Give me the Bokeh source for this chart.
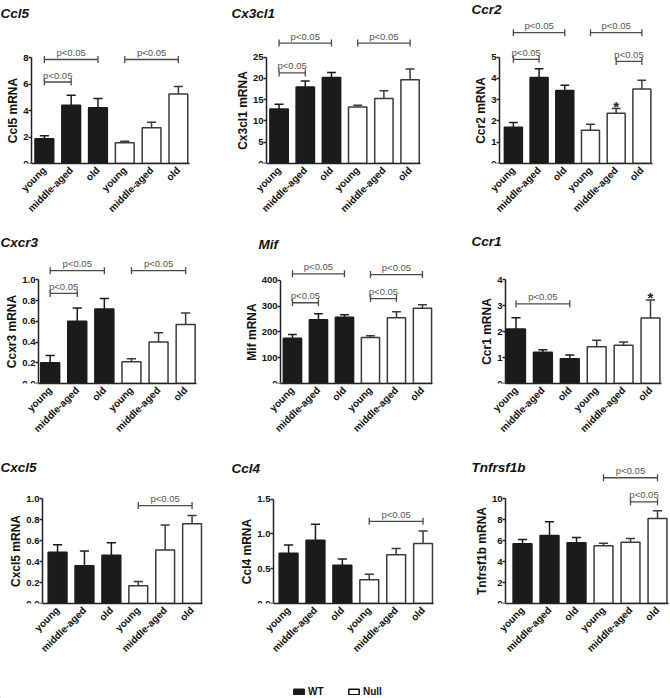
import math
from bokeh.plotting import figure
from bokeh.models import (ColumnDataSource, FixedTicker, Range1d, Label,
                          Legend, LegendItem, PrintfTickFormatter)
from bokeh.layouts import column, row
from bokeh.embed import file_html
from bokeh.resources import INLINE
from bokeh.core.properties import value

# ------------------------------------------------------------------ data
categories = ["young", "middle-aged", "old"]
groups = ["WT", "Null"]
sig_text = "p<0.05"

ccl5_wt = [1.87, 4.40, 4.20]
ccl5_wt_sem = [0.23, 0.75, 0.70]
ccl5_null = [1.57, 2.70, 5.25]
ccl5_null_sem = [0.10, 0.42, 0.57]
ccl5_ticks = [0, 2, 4, 6, 8]
ccl5_sig = [(1, 3, 7.85), (1, 2, 6.15), (4, 6, 7.85)]

cx3cl1_wt = [12.8, 18.0, 20.2]
cx3cl1_wt_sem = [1.1, 1.4, 1.2]
cx3cl1_null = [13.3, 15.3, 19.7]
cx3cl1_null_sem = [0.4, 1.8, 2.5]
cx3cl1_ticks = [0, 5, 10, 15, 20, 25]
cx3cl1_sig = [(1, 3, 28.3), (1, 2, 21.3), (4, 6, 28.3)]

ccr2_wt = [1.71, 4.04, 3.43]
ccr2_wt_sem = [0.22, 0.42, 0.25]
ccr2_null = [1.56, 2.36, 3.50]
ccr2_null_sem = [0.29, 0.23, 0.41]
ccr2_ticks = [0, 1, 2, 3, 4, 5]
ccr2_sig = [(1, 3, 6.15), (1, 2, 4.9), (4, 6, 6.15), (5, 6, 4.8)]
ccr2_star = [5]

cxcr3_wt = [0.20, 0.60, 0.72]
cxcr3_wt_sem = [0.07, 0.13, 0.10]
cxcr3_null = [0.21, 0.40, 0.57]
cxcr3_null_sem = [0.03, 0.09, 0.11]
cxcr3_ticks = [0.0, 0.2, 0.4, 0.6, 0.8, 1.0]
cxcr3_sig = [(1, 3, 1.09), (1, 2, 0.87), (4, 6, 1.09)]

mif_wt = [175, 247, 257]
mif_wt_sem = [15, 23, 9]
mif_null = [178, 255, 292]
mif_null_sem = [7, 23, 13]
mif_ticks = [0, 100, 200, 300, 400]
mif_sig = [(1, 3, 425), (1, 2, 313), (4, 6, 422), (4, 5, 329)]

ccr1_wt = [2.10, 1.20, 0.95]
ccr1_wt_sem = [0.43, 0.10, 0.15]
ccr1_null = [1.42, 1.47, 2.52]
ccr1_null_sem = [0.25, 0.13, 0.70]
ccr1_ticks = [0, 1, 2, 3, 4]
ccr1_sig = [(1, 3, 3.07)]
ccr1_star = [6]

cxcl5_wt = [0.49, 0.36, 0.46]
cxcl5_wt_sem = [0.07, 0.14, 0.12]
cxcl5_null = [0.17, 0.51, 0.76]
cxcl5_null_sem = [0.04, 0.24, 0.08]
cxcl5_ticks = [0.0, 0.2, 0.4, 0.6, 0.8, 1.0]
cxcl5_sig = [(4, 6, 0.935)]

ccl4_wt = [0.72, 0.91, 0.55]
ccl4_wt_sem = [0.12, 0.23, 0.09]
ccl4_null = [0.34, 0.70, 0.86]
ccl4_null_sem = [0.08, 0.09, 0.18]
ccl4_ticks = [0.0, 0.5, 1.0, 1.5]
ccl4_sig = [(4, 6, 1.18)]

tnfrsf1b_wt = [5.70, 6.50, 5.80]
tnfrsf1b_wt_sem = [0.40, 1.30, 0.50]
tnfrsf1b_null = [5.50, 5.85, 8.10]
tnfrsf1b_null_sem = [0.25, 0.35, 0.75]
tnfrsf1b_ticks = [0, 2, 4, 6, 8, 10]
tnfrsf1b_sig = [(4, 6, 12.0), (5, 6, 9.7)]

PANELS = [
    dict(gene="Ccl5", ylabel="Ccl5 mRNA", wt=ccl5_wt, wt_sem=ccl5_wt_sem, null=ccl5_null,
         null_sem=ccl5_null_sem, ticks=ccl5_ticks, fmt="%d", sig=ccl5_sig, star=[]),
    dict(gene="Cx3cl1", ylabel="Cx3cl1 mRNA", wt=cx3cl1_wt, wt_sem=cx3cl1_wt_sem, null=cx3cl1_null,
         null_sem=cx3cl1_null_sem, ticks=cx3cl1_ticks, fmt="%d", sig=cx3cl1_sig, star=[]),
    dict(gene="Ccr2", ylabel="Ccr2 mRNA", wt=ccr2_wt, wt_sem=ccr2_wt_sem, null=ccr2_null,
         null_sem=ccr2_null_sem, ticks=ccr2_ticks, fmt="%d", sig=ccr2_sig, star=ccr2_star),
    dict(gene="Cxcr3", ylabel="Ccxr3 mRNA", wt=cxcr3_wt, wt_sem=cxcr3_wt_sem, null=cxcr3_null,
         null_sem=cxcr3_null_sem, ticks=cxcr3_ticks, fmt="%.1f", sig=cxcr3_sig, star=[]),
    dict(gene="Mif", ylabel="Mif mRNA", wt=mif_wt, wt_sem=mif_wt_sem, null=mif_null,
         null_sem=mif_null_sem, ticks=mif_ticks, fmt="%d", sig=mif_sig, star=[]),
    dict(gene="Ccr1", ylabel="Ccr1 mRNA", wt=ccr1_wt, wt_sem=ccr1_wt_sem, null=ccr1_null,
         null_sem=ccr1_null_sem, ticks=ccr1_ticks, fmt="%d", sig=ccr1_sig, star=ccr1_star),
    dict(gene="Cxcl5", ylabel="Cxcl5 mRNA", wt=cxcl5_wt, wt_sem=cxcl5_wt_sem, null=cxcl5_null,
         null_sem=cxcl5_null_sem, ticks=cxcl5_ticks, fmt="%.1f", sig=cxcl5_sig, star=[]),
    dict(gene="Ccl4", ylabel="Ccl4 mRNA", wt=ccl4_wt, wt_sem=ccl4_wt_sem, null=ccl4_null,
         null_sem=ccl4_null_sem, ticks=ccl4_ticks, fmt="%.1f", sig=ccl4_sig, star=[]),
    dict(gene="Tnfrsf1b", ylabel="Tnfrsf1b mRNA", wt=tnfrsf1b_wt, wt_sem=tnfrsf1b_wt_sem,
         null=tnfrsf1b_null, null_sem=tnfrsf1b_null_sem, ticks=tnfrsf1b_ticks, fmt="%d",
         sig=tnfrsf1b_sig, star=[]),
]

# ------------------------------------------------------------------ layout / style
# W,H: figure size; ax: pixel column of the y axis; y0: pixel row of value 0;
# ytop: pixel row of top tick; x0: x value at the y axis; s: pixels per bar slot;
# tx,ty: title position (pixels from the figure's top-left corner)
GEOM = [
    dict(W=223, H=220, ax=31, y0=163, ytop=57, x0=0.52, s=26.8, tx=0, ty=5),
    dict(W=223, H=220, ax=43, y0=164, ytop=57, x0=0.52, s=26.2, tx=8, ty=5),
    dict(W=224, H=220, ax=53, y0=164, ytop=57, x0=0.46, s=25.7, tx=25, ty=1),
    dict(W=223, H=220, ax=38, y0=170, ytop=62, x0=0.57, s=27.1, tx=0, ty=14),
    dict(W=223, H=220, ax=57, y0=169, ytop=62, x0=0.54, s=26.0, tx=35, ty=16),
    dict(W=224, H=220, ax=59, y0=168, ytop=61, x0=0.61, s=26.9, tx=25, ty=13),
    dict(W=223, H=220, ax=42, y0=168, ytop=60, x0=0.44, s=26.9, tx=0, ty=19),
    dict(W=223, H=220, ax=50, y0=167, ytop=60, x0=0.44, s=26.9, tx=8, ty=20),
    dict(W=224, H=220, ax=59, y0=168, ytop=60, x0=0.37, s=27.0, tx=25, ty=19),
]
X_END = 6.4
FONT = "Liberation Sans"
WT_FILL = "#1b1b1b"
WT_LINE = "#1b1b1b"
NULL_FILL = "#ffffff"
NULL_LINE = "#3a3a3a"
BR_COLOR = "#4a4a4a"
PT_COLOR = "#555555"
AX_COLOR = "#222222"
BAR_W = 0.7
CAP = 0.17


def make_panel(spec, g):
    n = len(categories)
    xs_wt = [i + 1 for i in range(n)]
    xs_null = [n + i + 1 for i in range(n)]
    ymax = spec["ticks"][-1]
    y_end = ymax * g["y0"] / (g["y0"] - g["ytop"])
    x_start = g["x0"] - g["ax"] / g["s"]
    x_stop = g["x0"] + (g["W"] - g["ax"]) / g["s"]
    p = figure(width=g["W"], height=g["H"],
               x_range=Range1d(x_start, x_stop), y_range=Range1d(0, y_end),
               output_backend="svg", toolbar_location=None, min_border=0,
               min_border_left=0, min_border_right=0,
               min_border_top=0, min_border_bottom=g["H"] - g["y0"])
    p.outline_line_color = None
    p.xgrid.grid_line_color = None
    p.ygrid.grid_line_color = None
    p.background_fill_color = "white"
    p.border_fill_color = "white"

    etops_all = []
    for xs, means, sems, fill, line in [
        (xs_wt, spec["wt"], spec["wt_sem"], WT_FILL, WT_LINE),
        (xs_null, spec["null"], spec["null_sem"], NULL_FILL, NULL_LINE),
    ]:
        etops = [m + e for m, e in zip(means, sems)]
        etops_all += etops
        src = ColumnDataSource(dict(x=xs, top=means, etop=etops,
                                    cl=[x - CAP for x in xs], cr=[x + CAP for x in xs]))
        p.vbar(x="x", top="top", bottom=0, width=BAR_W, source=src,
               fill_color=fill, line_color=line, line_width=1.5)
        p.segment(x0="x", y0="top", x1="x", y1="etop", source=src,
                  line_color=line, line_width=1.5)
        p.segment(x0="cl", y0="etop", x1="cr", y1="etop", source=src,
                  line_color=line, line_width=1.5)

    for (i, j, y) in spec["sig"]:
        p.segment(x0=[i], y0=[y], x1=[j], y1=[y], line_color=BR_COLOR, line_width=1.3)
        p.scatter(x=[i, j], y=[y, y], marker="dash", angle=math.pi / 2, size=7,
                  line_color=BR_COLOR, line_width=1.3)
        p.text(x=[(i + j) / 2], y=[y], text=[sig_text], text_align="center",
               text_baseline="alphabetic", y_offset=-7, text_font=value(FONT),
               text_font_size=value("9.5px"), text_color=PT_COLOR)

    for k in spec["star"]:
        p.text(x=[k], y=[etops_all[k - 1]], text=["*"], text_align="center",
               text_baseline="alphabetic", y_offset=-2, text_font=value(FONT),
               text_font_size=value("15px"), text_font_style="bold", text_color="#222222")

    ya = p.yaxis[0]
    ya.fixed_location = g["x0"]
    ya.ticker = FixedTicker(ticks=spec["ticks"])
    ya.formatter = PrintfTickFormatter(format=spec["fmt"])
    ya.bounds = (0, ymax)
    ya.axis_label = spec["ylabel"]
    ya.axis_label_text_font = FONT
    ya.axis_label_text_font_size = "12px"
    ya.axis_label_text_font_style = "bold"
    ya.axis_label_text_color = "#111111"
    ya.axis_label_standoff = 0
    ya.major_label_text_font = FONT
    ya.major_label_text_font_size = "9.5px"
    ya.major_label_text_font_style = "bold"
    ya.major_label_text_color = "#111111"
    ya.major_label_standoff = 0
    ya.major_tick_out = 3
    ya.major_tick_in = 0
    ya.minor_tick_out = 0
    ya.minor_tick_in = 0
    ya.axis_line_width = 1.5
    ya.axis_line_color = AX_COLOR
    ya.major_tick_line_width = 1.5
    ya.major_tick_line_color = AX_COLOR

    xa = p.xaxis[0]
    ticks = xs_wt + xs_null
    xa.ticker = FixedTicker(ticks=ticks)
    xa.bounds = (g["x0"], X_END)
    xa.major_label_overrides = {t: lab for t, lab in zip(ticks, categories * len(groups))}
    xa.major_label_orientation = math.pi / 4
    xa.major_label_text_font = FONT
    xa.major_label_text_font_size = "10px"
    xa.major_label_text_font_style = "bold"
    xa.major_label_text_color = "#111111"
    xa.major_label_standoff = 5
    xa.major_tick_out = 0
    xa.major_tick_in = 0
    xa.minor_tick_out = 0
    xa.minor_tick_in = 0
    xa.axis_line_width = 1.5
    xa.axis_line_color = AX_COLOR

    title = Label(x=x_start, y=y_end, x_offset=g["tx"], y_offset=-g["ty"],
                  text=spec["gene"], text_baseline="top", text_align="left",
                  text_font=FONT, text_font_size="13.5px", text_font_style="bold italic",
                  text_color="#111111")
    p.add_layout(title)
    return p


panels = [make_panel(s, g) for s, g in zip(PANELS, GEOM)]

leg = figure(width=670, height=38, x_range=Range1d(0, 1), y_range=Range1d(0, 1),
             x_axis_location=None, y_axis_location=None, toolbar_location=None,
             output_backend="svg", min_border=0)
leg.outline_line_color = None
leg.xgrid.grid_line_color = None
leg.ygrid.grid_line_color = None
# legend proxies (kept outside the visible range)
r_wt = leg.vbar(x=[-5], top=[-5], width=0.1, fill_color=WT_FILL, line_color=WT_LINE, line_width=1.5)
r_null = leg.vbar(x=[-5], top=[-5], width=0.1, fill_color=NULL_FILL, line_color="#111111", line_width=1.5)
legend = Legend(items=[LegendItem(label=groups[0], renderers=[r_wt]),
                       LegendItem(label=groups[1], renderers=[r_null])],
                orientation="horizontal", location=(292, 1),
                glyph_width=13, glyph_height=7, label_height=10, label_standoff=3,
                spacing=19, padding=0, margin=0, border_line_color=None,
                background_fill_alpha=0, label_text_font=FONT,
                label_text_font_size="10px", label_text_font_style="bold",
                label_text_color="#111111")
leg.add_layout(legend, "center")

layout = column(row(*panels[0:3]), row(*panels[3:6]), row(*panels[6:9]), leg)

open("out.html", "w").write(file_html(layout, INLINE, "mRNA expression"))
